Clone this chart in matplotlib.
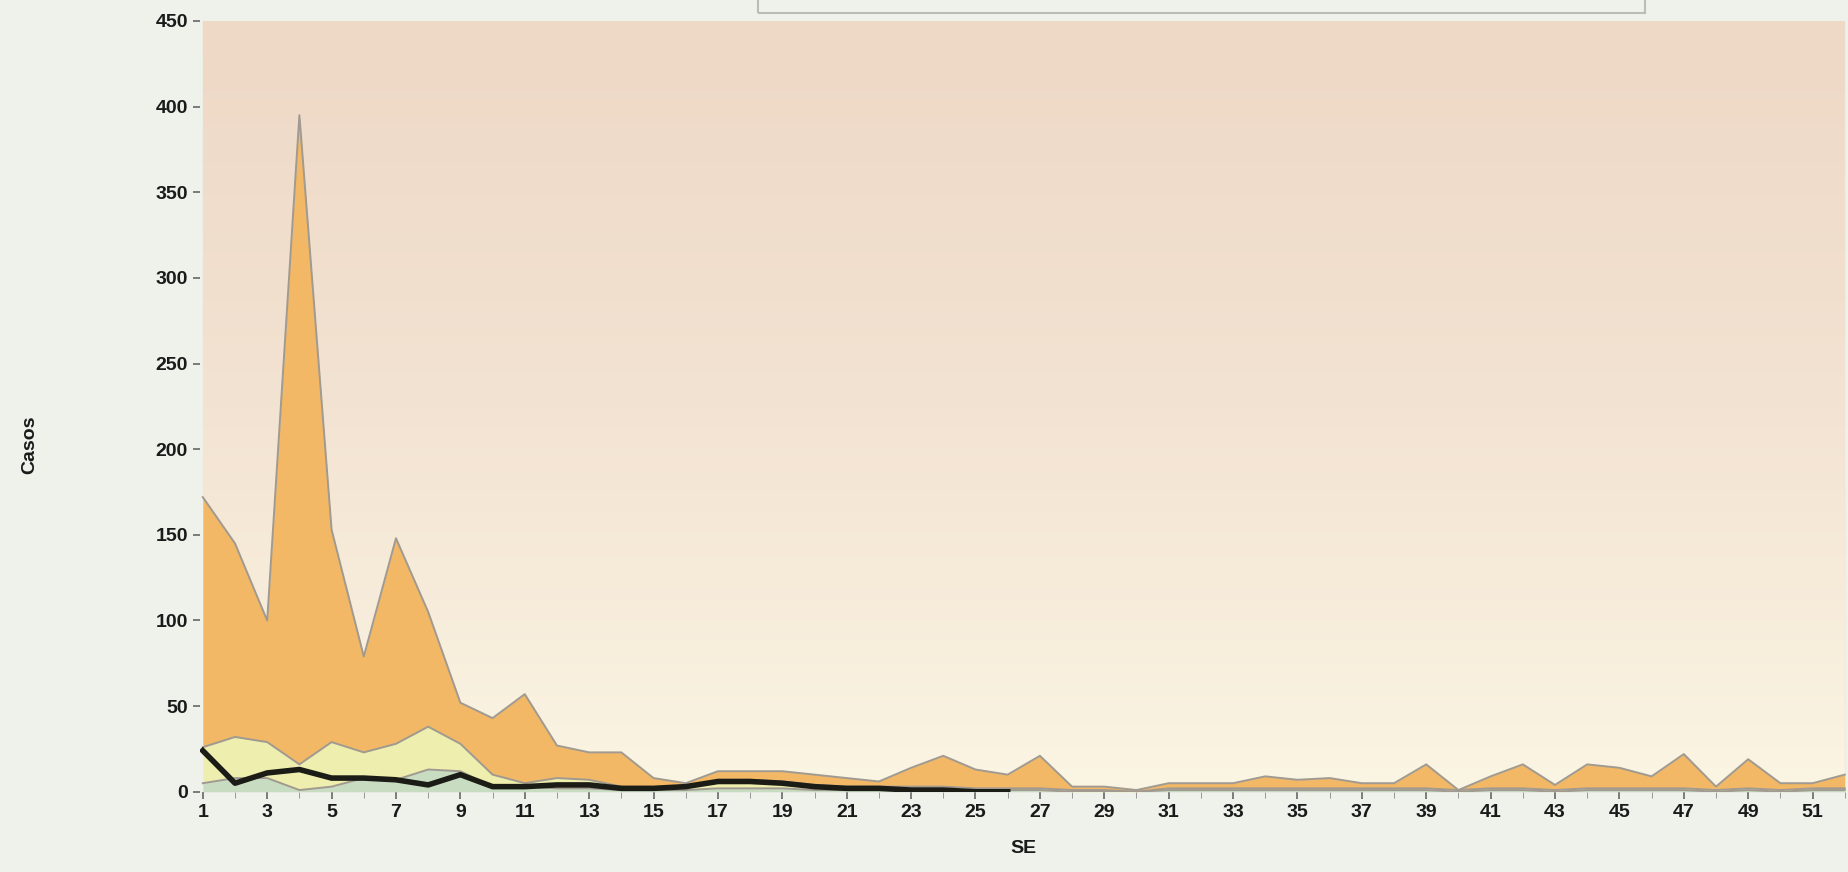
import numpy as np
import matplotlib.pyplot as plt
from matplotlib.patches import Rectangle
from matplotlib.colors import LinearSegmentedColormap

plt.rcParams['font.family'] = ['Liberation Sans', 'DejaVu Sans']

weeks = list(range(1, 53))

# upper limit of the "exito" zone (green)
exito = [5, 8, 8, 1, 3, 8, 7, 13, 12, 3, 3, 2, 2, 1, 1, 1, 2, 2, 2, 1,
         1, 1, 1, 1, 1, 1, 1, 0, 0, 0, 1, 1, 1, 1, 1, 1, 1, 1, 1, 0,
         1, 1, 0, 1, 1, 1, 1, 0, 1, 0, 1, 1]
# upper limit of the "seguridad" zone (yellow)
seguridad = [26, 32, 29, 16, 29, 23, 28, 38, 28, 10, 5, 8, 7, 3, 2, 2, 7, 7, 6, 4,
             3, 3, 3, 3, 2, 2, 2, 1, 1, 0, 2, 2, 2, 2, 2, 2, 2, 2, 2, 1,
             2, 2, 1, 2, 2, 2, 2, 1, 2, 1, 2, 2]
# upper limit of the "alerta" zone (orange)
alerta = [172, 145, 100, 395, 153, 79, 148, 105, 52, 43, 57, 27, 23, 23, 8, 5, 12, 12, 12, 10,
          8, 6, 14, 21, 13, 10, 21, 3, 3, 1, 5, 5, 5, 9, 7, 8, 5, 5, 16, 1,
          9, 16, 4, 16, 14, 9, 22, 3, 19, 5, 5, 10]
# upper limit of the "epidemia" zone
epidemia = [450] * 52

# current year cases (SE 1-26)
casos_weeks = list(range(1, 27))
casos = [24, 5, 11, 13, 8, 8, 7, 4, 10, 3, 3, 4, 4, 2, 2, 3, 6, 6, 5, 3,
         2, 2, 1, 1, 0, 0]

fig = plt.figure(figsize=(18.48, 8.72), dpi=100)
fig.patch.set_facecolor('#eef2ea')
ax = fig.add_axes([0.108, 0.092, 0.892, 0.884])
ax.set_facecolor('#eef2ea')

x = np.array(weeks)
zero = np.zeros(len(weeks))

top = ax.fill_between(x, alerta, epidemia, color='#f2e2d0', lw=0)
# light gradient like the lit paper
grad = np.linspace(0, 1, 256).reshape(-1, 1)
cmap = LinearSegmentedColormap.from_list('paper', ['#fbf5e3', '#f3e3d2', '#eed8c6'])
im = ax.imshow(grad, extent=[0.9, 52.2, 0, 450], origin='lower', aspect='auto',
               cmap=cmap, zorder=1)
im.set_clip_path(top.get_paths()[0], ax.transData)

ax.fill_between(x, seguridad, alerta, color='#f2b866', lw=0, zorder=2)
ax.fill_between(x, exito, seguridad, color='#eeeeae', lw=0, zorder=2)
ax.fill_between(x, zero, exito, color='#c8dcc2', lw=0, zorder=2)
for s in (alerta, seguridad, exito):
    ax.plot(x, s, color='#a09a90', lw=1.4, zorder=3)

ax.plot(casos_weeks, casos, color='#1c1c16', lw=4, zorder=4)

ax.set_xlim(0.9, 52.1)
ax.set_ylim(0, 450)
ax.set_xticks(list(range(1, 53, 2)))
ax.set_xticks(weeks, minor=True)
ax.set_yticks(list(range(0, 451, 50)))
for sp in ax.spines.values():
    sp.set_visible(False)
ax.tick_params(axis='both', colors='#666666', labelcolor='#1a1a1a',
               labelsize=14, length=5, width=1.2)
ax.tick_params(axis='x', which='minor', length=4, color='#888888')
for lab in ax.get_xticklabels() + ax.get_yticklabels():
    lab.set_fontweight('bold')
ax.set_xlabel('SE', fontsize=14, fontweight='bold', color='#1a1a1a', labelpad=14)
ax.set_ylabel('Casos', fontsize=14, fontweight='bold', color='#1a1a1a', labelpad=0)
ax.yaxis.set_label_coords(-0.098, 0.45)

# lower edge of the legend box cut off at the top of the photo
fig.patches.append(Rectangle((0.41, 0.985), 0.48, 0.1, transform=fig.transFigure,
                             fill=False, edgecolor='#b8bdb8', lw=1.5))

fig.savefig('out.png', dpi=100, facecolor=fig.get_facecolor())
